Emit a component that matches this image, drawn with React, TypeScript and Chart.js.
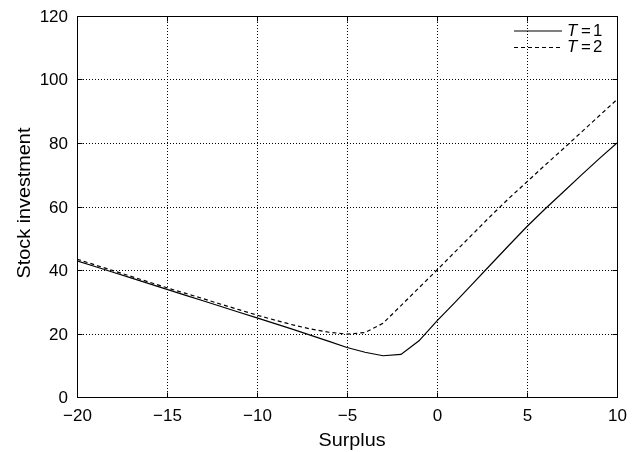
import React, { useEffect, useRef } from "react";
import { Chart, registerables } from "chart.js";

Chart.register(...registerables);

const xValues = [-20, -19, -18, -17, -16, -15, -14, -13, -12, -11, -10, -9, -8, -7, -6, -5, -4, -3, -2, -1, 0, 1, 2, 3, 4, 5, 6, 7, 8, 9, 10];
const seriesT1 = [42.9, 41.1, 39.3, 37.5, 35.7, 33.9, 32.1, 30.3, 28.5, 26.7, 24.9, 23.1, 21.3, 19.4, 17.5, 15.6, 14.1, 13.0, 13.4, 17.7, 24.0, 29.8, 35.8, 41.8, 47.8, 53.7, 59.2, 64.5, 69.8, 75.0, 80.0];
const seriesT2 = [43.4, 41.6, 39.8, 38.0, 36.2, 34.4, 32.7, 31.0, 29.2, 27.5, 25.8, 24.2, 22.7, 21.4, 20.4, 19.8, 20.3, 23.2, 28.8, 34.4, 40.0, 45.7, 51.4, 57.1, 62.6, 67.8, 73.0, 78.1, 83.3, 88.5, 93.7];
const seriesNames = ["1", "2"];
const xTicks = [-20, -15, -10, -5, 0, 5, 10];
const yTicks = [0, 20, 40, 60, 80, 100, 120];
const xTitle = "Surplus";
const yTitle = "Stock investment";

const FONT = "'Liberation Sans', Arial, Helvetica, sans-serif";
const TICK_SIZE = 17;
const TITLE_SIZE = 18;
const STRETCH = 1.1;

function stretchedText(ctx: any, text: string, x: number, y: number, align: string, rot: number, sx: number) {
  ctx.save();
  ctx.translate(x, y);
  if (rot) ctx.rotate(rot);
  ctx.scale(sx, 1);
  ctx.textAlign = align;
  ctx.fillText(text, 0, 0);
  ctx.restore();
}

const framePlugin = {
  id: "framePlugin",
  beforeDatasetsDraw(chart: any) {
    const { ctx, chartArea, scales } = chart;
    const { left, right, top, bottom } = chartArea;
    ctx.save();
    ctx.strokeStyle = "#000";
    ctx.lineWidth = 1;
    ctx.setLineDash([1, 2]);
    xTicks.forEach((v) => {
      const px = Math.round(scales.x.getPixelForValue(v)) + 0.5;
      if (px <= left + 1 || px >= right - 1) return;
      ctx.beginPath();
      ctx.moveTo(px, top);
      ctx.lineTo(px, bottom);
      ctx.stroke();
    });
    yTicks.forEach((v) => {
      const py = Math.round(scales.y.getPixelForValue(v)) + 0.5;
      if (py <= top + 1 || py >= bottom - 1) return;
      ctx.beginPath();
      ctx.moveTo(left, py);
      ctx.lineTo(right, py);
      ctx.stroke();
    });
    ctx.restore();
  },
  afterDraw(chart: any) {
    const { ctx, chartArea, scales } = chart;
    const { left, right, top, bottom } = chartArea;
    ctx.save();
    ctx.strokeStyle = "#000";
    ctx.fillStyle = "#000";
    ctx.lineWidth = 1;
    ctx.setLineDash([]);
    const l = Math.round(left) + 0.5, r = Math.round(right) + 0.5, t = Math.round(top) + 0.5, b = Math.round(bottom) + 0.5;
    ctx.strokeRect(l, t, r - l, b - t);
    const tl = 5;
    ctx.font = `${TICK_SIZE}px ${FONT}`;
    xTicks.forEach((v) => {
      const px = Math.round(scales.x.getPixelForValue(v)) + 0.5;
      ctx.beginPath();
      ctx.moveTo(px, b);
      ctx.lineTo(px, b - tl);
      ctx.moveTo(px, t);
      ctx.lineTo(px, t + tl);
      ctx.stroke();
      ctx.textBaseline = "alphabetic";
      stretchedText(ctx, String(v).replace("-", "\u2212"), px, 421, "center", 0, 1);
    });
    yTicks.forEach((v) => {
      const py = Math.round(scales.y.getPixelForValue(v)) + 0.5;
      ctx.beginPath();
      ctx.moveTo(l, py);
      ctx.lineTo(l + tl, py);
      ctx.moveTo(r, py);
      ctx.lineTo(r - tl, py);
      ctx.stroke();
      ctx.textBaseline = "middle";
      stretchedText(ctx, String(v), 68, py + 0.5, "right", 0, 1);
    });
    // axis titles
    ctx.font = `${TITLE_SIZE}px ${FONT}`;
    ctx.textBaseline = "alphabetic";
    stretchedText(ctx, xTitle, 352, 446, "center", 0, STRETCH);
    stretchedText(ctx, yTitle, 30, 203, "center", -Math.PI / 2, STRETCH);
    // legend
    const entries = [
      { name: seriesNames[0], dash: [] as number[], y: 31 },
      { name: seriesNames[1], dash: [4, 3], y: 47.5 },
    ];
    entries.forEach((e) => {
      ctx.beginPath();
      ctx.setLineDash(e.dash);
      ctx.lineWidth = 1.2;
      ctx.moveTo(514, e.y);
      ctx.lineTo(562, e.y);
      ctx.stroke();
      ctx.setLineDash([]);
      ctx.textBaseline = "middle";
      ctx.font = `italic 16px ${FONT}`;
      stretchedText(ctx, "T", 567, e.y + 0.5, "left", 0, 1.05);
      ctx.font = `16px ${FONT}`;
      stretchedText(ctx, "=", 581, e.y + 0.5, "left", 0, 1.05);
      stretchedText(ctx, e.name, 593, e.y + 0.5, "left", 0, 1.05);
    });
    ctx.restore();
  },
};

export default function App() {
  const ref = useRef<HTMLCanvasElement | null>(null);
  useEffect(() => {
    document.body.style.margin = "0";
    const canvas = ref.current;
    if (!canvas) return;
    const chart = new Chart(canvas, {
      type: "line",
      data: {
        datasets: [
          {
            label: "T=1",
            data: xValues.map((x, i) => ({ x, y: seriesT1[i] })),
            borderColor: "#000",
            borderWidth: 1.2,
            pointRadius: 0,
            fill: false,
            tension: 0,
          },
          {
            label: "T=2",
            data: xValues.map((x, i) => ({ x, y: seriesT2[i] })),
            borderColor: "#000",
            borderWidth: 1.2,
            borderDash: [4, 3],
            pointRadius: 0,
            fill: false,
            tension: 0,
          },
        ],
      },
      options: {
        animation: false,
        responsive: false,
        maintainAspectRatio: false,
        layout: { padding: { top: 16, right: 22, left: 0, bottom: 0 } },
        plugins: { legend: { display: false }, tooltip: { enabled: false } },
        scales: {
          x: {
            type: "linear",
            min: -20,
            max: 10,
            afterBuildTicks: (axis: any) => {
              axis.ticks = xTicks.map((v) => ({ value: v }));
            },
            afterFit: (axis: any) => {
              axis.height = 55;
              axis.paddingLeft = 0;
              axis.paddingRight = 0;
            },
            grid: { display: false },
            border: { display: false },
            ticks: { display: false },
            title: { display: false },
          },
          y: {
            type: "linear",
            min: 0,
            max: 120,
            afterBuildTicks: (axis: any) => {
              axis.ticks = yTicks.map((v) => ({ value: v }));
            },
            afterFit: (axis: any) => {
              axis.width = 77;
              axis.paddingTop = 0;
              axis.paddingBottom = 0;
            },
            grid: { display: false },
            border: { display: false },
            ticks: { display: false },
            title: { display: false },
          },
        },
      },
      plugins: [framePlugin],
    });
    return () => chart.destroy();
  }, []);
  return (
    <div style={{ width: 639, height: 452 }}>
      <canvas ref={ref} width={639} height={452} style={{ display: "block", width: 639, height: 452 }} />
    </div>
  );
}
